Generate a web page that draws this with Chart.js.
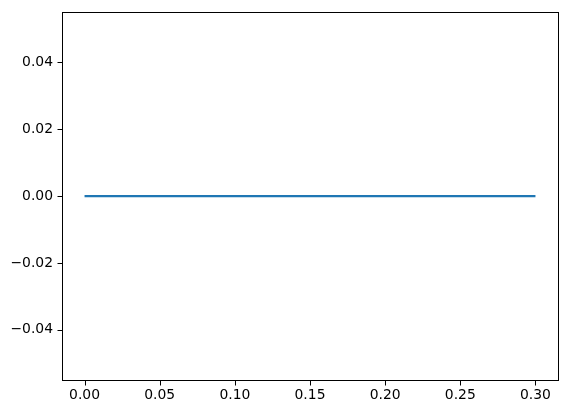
<!DOCTYPE html>
<html>
<head>
<meta charset="utf-8">
<script src="https://cdn.jsdelivr.net/npm/chart.js@4"></script>
<style>
  html, body { margin: 0; padding: 0; background: #fff; }
  #wrap { width: 567px; height: 413px; }
</style>
</head>
<body>
<div id="wrap"><canvas id="chart" width="567" height="413"></canvas></div>
<script>
const xValues = [0, 0.3];
const yValues = [0, 0];
const xTicks = [0, 0.05, 0.1, 0.15, 0.2, 0.25, 0.3];
const yTicks = [-0.04, -0.02, 0, 0.02, 0.04];

// spines and outward tick marks, matplotlib style
const frame = {
  id: 'frame',
  afterDraw(chart) {
    const { ctx, chartArea: a, scales } = chart;
    const L = Math.round(a.left) + 0.5, R = Math.round(a.right) + 0.5;
    const T = Math.round(a.top) + 0.5, B = Math.round(a.bottom) + 0.5;
    ctx.save();
    ctx.strokeStyle = '#000';
    ctx.lineWidth = 1;
    ctx.strokeRect(L, T, R - L, B - T);
    ctx.beginPath();
    xTicks.forEach(v => {
      const px = Math.round(scales.x.getPixelForValue(v)) + 0.5;
      ctx.moveTo(px, B);
      ctx.lineTo(px, B + 5);
    });
    yTicks.forEach(v => {
      const py = Math.round(scales.y.getPixelForValue(v)) + 0.5;
      ctx.moveTo(L, py);
      ctx.lineTo(L - 5, py);
    });
    ctx.stroke();
    ctx.restore();
  }
};

const tickFont = { family: 'DejaVu Sans', size: 13.9 };
const fmt = v => v.toFixed(2).replace('-', '\u2212');

new Chart(document.getElementById('chart'), {
  type: 'line',
  data: {
    datasets: [{
      data: xValues.map((x, i) => ({ x, y: yValues[i] })),
      borderColor: '#1f77b4',
      borderWidth: 2.1,
      pointRadius: 0,
      tension: 0
    }]
  },
  options: {
    responsive: false,
    animation: false,
    layout: { padding: { left: 0, top: 8, right: 9, bottom: 0 } },
    plugins: { legend: { display: false }, tooltip: { enabled: false } },
    scales: {
      x: {
        type: 'linear',
        min: -0.015,
        max: 0.315,
        afterBuildTicks: s => { s.ticks = xTicks.map(v => ({ value: v })); },
        afterFit: s => { s.height = 33; },
        ticks: {
          color: '#000',
          font: tickFont,
          padding: 2,
          maxRotation: 0,
          autoSkip: false,
          callback: fmt
        },
        grid: { drawOnChartArea: false, tickLength: 5, color: 'rgba(0,0,0,0)' },
        border: { display: false }
      },
      y: {
        min: -0.055,
        max: 0.055,
        afterBuildTicks: s => { s.ticks = yTicks.map(v => ({ value: v })); },
        afterFit: s => { s.width = 62; },
        ticks: {
          color: '#000',
          font: tickFont,
          padding: 4,
          autoSkip: false,
          callback: fmt
        },
        grid: { drawOnChartArea: false, tickLength: 5, color: 'rgba(0,0,0,0)' },
        border: { display: false }
      }
    }
  },
  plugins: [frame]
});
</script>
</body>
</html>
